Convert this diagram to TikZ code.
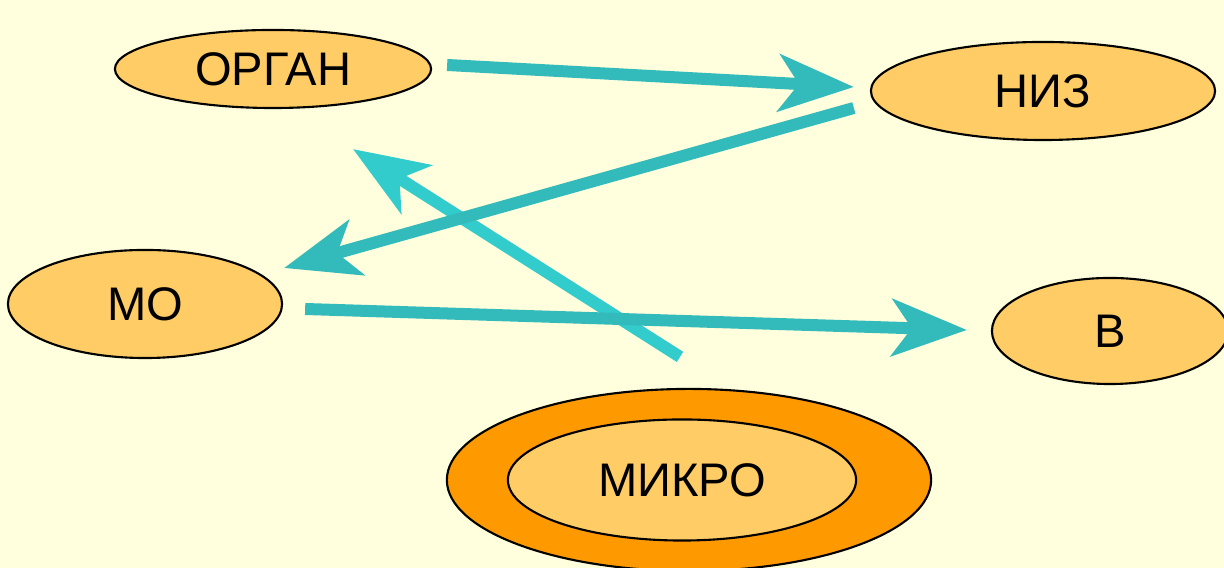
\documentclass[tikz,border=0pt]{standalone}
\usepackage{fontspec}
\setmainfont{Liberation Sans}
\usetikzlibrary{shapes.geometric,arrows.meta,calc}
\definecolor{bg}{HTML}{FFFFDD}
\definecolor{lorange}{HTML}{FFCC66}
\definecolor{dorange}{HTML}{FF9900}
\definecolor{tealA}{HTML}{33BBBB}
\definecolor{tealB}{HTML}{33CCCC}
\begin{document}
\begin{tikzpicture}[x=0.01cm,y=-0.01cm,
  oval/.style={ellipse,draw=black,line width=0.6pt,fill=lorange,inner sep=0pt,
    font=\fontsize{13.4pt}{16pt}\selectfont},
  conn/.style={line width=0.12cm,color=tealA,
    -{Stealth[length=0.75cm,width=0.57cm,inset=0.2cm]}},
  connB/.style={conn,color=tealB}]
\useasboundingbox (0,0) rectangle (1224,568);
\clip (0,0) rectangle (1224,568);
\fill[bg] (0,0) rectangle (1224,568);
\node[oval,minimum width=3.16cm,minimum height=0.78cm] (organ) at (273,69) {ОРГАН};
\node[oval,minimum width=3.44cm,minimum height=0.98cm] (niz) at (1043,91) {НИЗ};
\node[oval,minimum width=2.74cm,minimum height=1.08cm] (mo) at (145,304) {МО};
\node[oval,minimum width=2.36cm,minimum height=1.06cm] (v) at (1110,331) {В};
\node[ellipse,draw=black,line width=0.6pt,fill=dorange,inner sep=0pt,
  minimum width=4.84cm,minimum height=1.82cm] (mikroout) at (689,480) {};
\node[oval,minimum width=3.48cm,minimum height=1.21cm] (mikro) at (682,480) {МИКРО};
\draw[connB] ($(mikroout.north)+(-9,-31)$) -- ($(organ.south)+(80,40)$);
\draw[conn] ($(organ.east)+(15,-4)$) -- ($(niz.west)+(-16,-4)$);
\draw[conn] ($(niz.west)+(-16,17)$) -- ($(mo.east)+(1,-36)$);
\draw[conn] ($(mo.east)+(22,5)$) -- ($(v.west)+(-24,-1)$);
\end{tikzpicture}
\end{document}
